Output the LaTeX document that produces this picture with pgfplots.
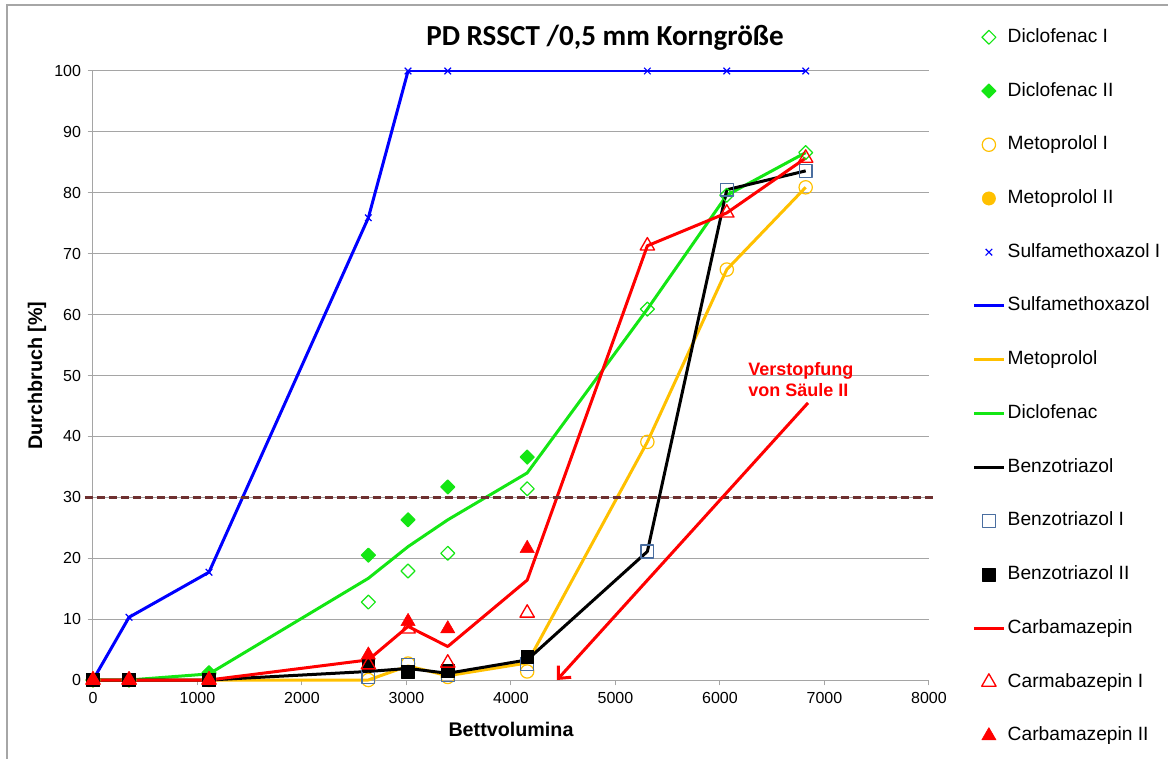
\documentclass[border=0pt]{standalone}
\usepackage{fontspec}
\setmainfont{Liberation Sans}
\newfontfamily\titlefont{Carlito}
\usepackage{pgfplots}
\pgfplotsset{compat=1.18}
\usetikzlibrary{arrows.meta}
\definecolor{cgreen}{RGB}{20,230,20}
\definecolor{corange}{RGB}{255,192,0}
\definecolor{cblue}{RGB}{0,0,255}
\definecolor{cred}{RGB}{255,0,0}
\definecolor{csq}{RGB}{74,110,160}
\definecolor{cbrown}{RGB}{110,48,48}
\definecolor{cgrid}{RGB}{165,165,165}
\begin{document}
\begin{tikzpicture}
\useasboundingbox (0,0) rectangle (876pt,568.5pt);
\draw[gray!70, line width=0.8pt] (5.25pt,-20pt) rectangle (900pt,564.75pt);
\node[font=\titlefont\bfseries\fontsize{21.8}{26}\selectfont] at (453.75pt,540pt) {PD RSSCT /0,5 mm Korngröße};
\begin{axis}[
  at={(69.75pt,58.5pt)}, anchor=south west,
  scale only axis, width=627pt, height=456.75pt,
  xmin=0, xmax=8000, ymin=0, ymax=100,
  xtick={0,1000,...,8000}, ytick={0,10,...,100},
  axis x line=bottom, axis y line=left,
  axis line style={draw=cgrid, line width=0.75pt, -},
  tick align=outside, major tick length=4pt,
  tick style={draw=cgrid, line width=0.75pt},
  ymajorgrids, grid style={draw=cgrid, line width=0.75pt},
  /pgf/number format/assume math mode=true,
  /pgf/number format/1000 sep={},
  ticklabel style={font=\fontsize{12}{14}\selectfont},
  yticklabel style={xshift=-1.5pt},
  xticklabel style={yshift=-2pt},
  xlabel={Bettvolumina}, ylabel={Durchbruch [\%]},
  label style={font=\bfseries\fontsize{14.8}{17}\selectfont},
  xlabel style={at={(axis description cs:0.5,-0.082)}, anchor=center},
  ylabel style={at={(axis description cs:-0.067,0.5)}, anchor=center},
  clip=false,
  legend style={at={(axis description cs:1.052,1.075)}, anchor=north west, draw=none, fill=none,
    font=\fontsize{14.4}{16}\selectfont, row sep=22.8pt, inner sep=0pt,
    nodes={inner sep=2pt, text height=10.5pt, text depth=3pt}},
  legend cell align=left,
  legend image code/.code={\draw[mark repeat=2,mark phase=2,#1] plot coordinates {(0pt,0pt) (11pt,0pt) (22pt,0pt)};},
  every axis plot/.append style={line join=round},
]
% 1 Diclofenac I
\addplot[only marks, mark=square, mark size=3.7pt, mark options={rotate=45, draw=cgreen, fill=white, line width=0.9pt}]
  coordinates {(0,0) (345,0) (1110,1.0) (2635,12.8) (3015,17.9) (3395,20.8) (4155,31.4) (5305,60.9) (6065,79.6) (6820,86.6)};
\addlegendentry{Diclofenac I}
% 2 Diclofenac II
\addplot[only marks, mark=square*, mark size=3.7pt, mark options={rotate=45, draw=cgreen, fill=cgreen, line width=0.9pt}]
  coordinates {(0,0) (345,0) (1110,1.2) (2635,20.5) (3015,26.3) (3395,31.7) (4155,36.6)};
\addlegendentry{Diclofenac II}
% 3 Metoprolol I
\addplot[only marks, mark=o, mark size=5pt, mark options={draw=corange, fill=white, line width=0.9pt}]
  coordinates {(0,0) (345,0) (1110,0) (2635,0) (3015,2.7) (3395,0.5) (4155,1.4) (5305,39.1) (6065,67.4) (6820,80.9)};
\addlegendentry{Metoprolol I}
% 4 Metoprolol II
\addplot[only marks, mark=*, mark size=5pt, mark options={draw=corange, fill=corange}]
  coordinates {(0,0) (345,0) (1110,0)};
\addlegendentry{Metoprolol II}
% thin connecting line of Sulfamethoxazol I
\addplot[forget plot, no markers, cblue, line width=1.1pt]
  coordinates {(3015,100) (3395,100) (5305,100) (6065,100) (6820,100)};
% 5 Sulfamethoxazol I
\addplot[only marks, mark=x, mark size=3.5pt, mark options={draw=cblue, line width=0.9pt}]
  coordinates {(0,0) (345,10.3) (1110,17.7) (2635,75.9) (3015,100) (3395,100) (5305,100) (6065,100) (6820,100)};
\addlegendentry{Sulfamethoxazol I}
% 6 Sulfamethoxazol
\addplot[no markers, cblue, line width=2.25pt]
  coordinates {(0,0) (345,10.3) (1110,17.7) (2635,75.9) (3015,100)};
\addlegendentry{Sulfamethoxazol}
% 7 Metoprolol
\addplot[no markers, corange, line width=2.25pt]
  coordinates {(0,0) (345,0) (1110,0) (2635,0) (3015,2.3) (3395,0.7) (4155,2.8) (5305,39.1) (6065,67.4) (6820,80.9)};
\addlegendentry{Metoprolol}
% 8 Diclofenac
\addplot[no markers, cgreen, line width=2.25pt]
  coordinates {(0,0) (345,0) (1110,1.0) (2635,16.7) (3015,21.9) (3395,26.3) (4155,34.0) (5305,60.9) (6065,79.6) (6820,86.6)};
\addlegendentry{Diclofenac}
% 9 Benzotriazol
\addplot[no markers, black, line width=2.25pt]
  coordinates {(0,0) (345,0) (1110,0) (2635,1.4) (3015,1.9) (3395,1.1) (4155,3.3) (5305,21.1) (6065,80.5) (6820,83.6)};
\addlegendentry{Benzotriazol}
% 10 Benzotriazol I
\addplot[only marks, mark=square, mark size=4.8pt, mark options={draw=csq, fill=white, line width=1pt}]
  coordinates {(0,0) (345,0) (1110,0) (2635,0.5) (3015,2.5) (3395,0.8) (4155,2.6) (5305,21.1) (6065,80.5) (6820,83.6)};
\addlegendentry{Benzotriazol I}
% 11 Benzotriazol II
\addplot[only marks, mark=square*, mark size=4.8pt, mark options={draw=black, fill=black}]
  coordinates {(0,0) (345,0) (1110,0) (2635,2.5) (3015,1.4) (3395,1.5) (4155,3.8)};
\addlegendentry{Benzotriazol II}
% 12 Carbamazepin
\addplot[no markers, cred, line width=2.25pt]
  coordinates {(0,0) (345,0) (1110,0) (2635,3.3) (3015,8.8) (3395,5.5) (4155,16.4) (5305,71.3) (6065,76.7) (6820,85.7)};
\addlegendentry{Carbamazepin}
% 13 Carmabazepin I
\addplot[only marks, mark=triangle, mark size=6.2pt, mark options={draw=cred, fill=white, line width=1pt}]
  coordinates {(0,0) (345,0) (1110,0) (2635,2.5) (3015,8.4) (3395,2.8) (4155,11.0) (5305,71.3) (6065,76.7) (6820,85.7)};
\addlegendentry{Carmabazepin I}
% 14 Carbamazepin II
\addplot[only marks, mark=triangle*, mark size=6.2pt, mark options={draw=cred, fill=cred}]
  coordinates {(0,0) (345,0) (1110,0) (2635,4.1) (3015,9.6) (3395,8.4) (4155,21.6)};
\addlegendentry{Carbamazepin II}
% 30 % threshold
\addplot[forget plot, no markers, cbrown, line width=2.25pt, dash pattern=on 6.5pt off 2.5pt]
  coordinates {(-80,30) (8070,30)};
\draw[cred, line width=2.25pt, -{Straight Barb[length=7pt,width=13pt,line width=2.25pt]}]
  (axis cs:6842,45.5) -- (axis cs:4440,0);
\node[cred, anchor=north west, inner sep=0pt, align=left,
  font=\bfseries\fontsize{13.5}{15.5}\selectfont] at (axis cs:6268,52.2) {Verstopfung\\von Säule II};
\end{axis}
\end{tikzpicture}
\end{document}
